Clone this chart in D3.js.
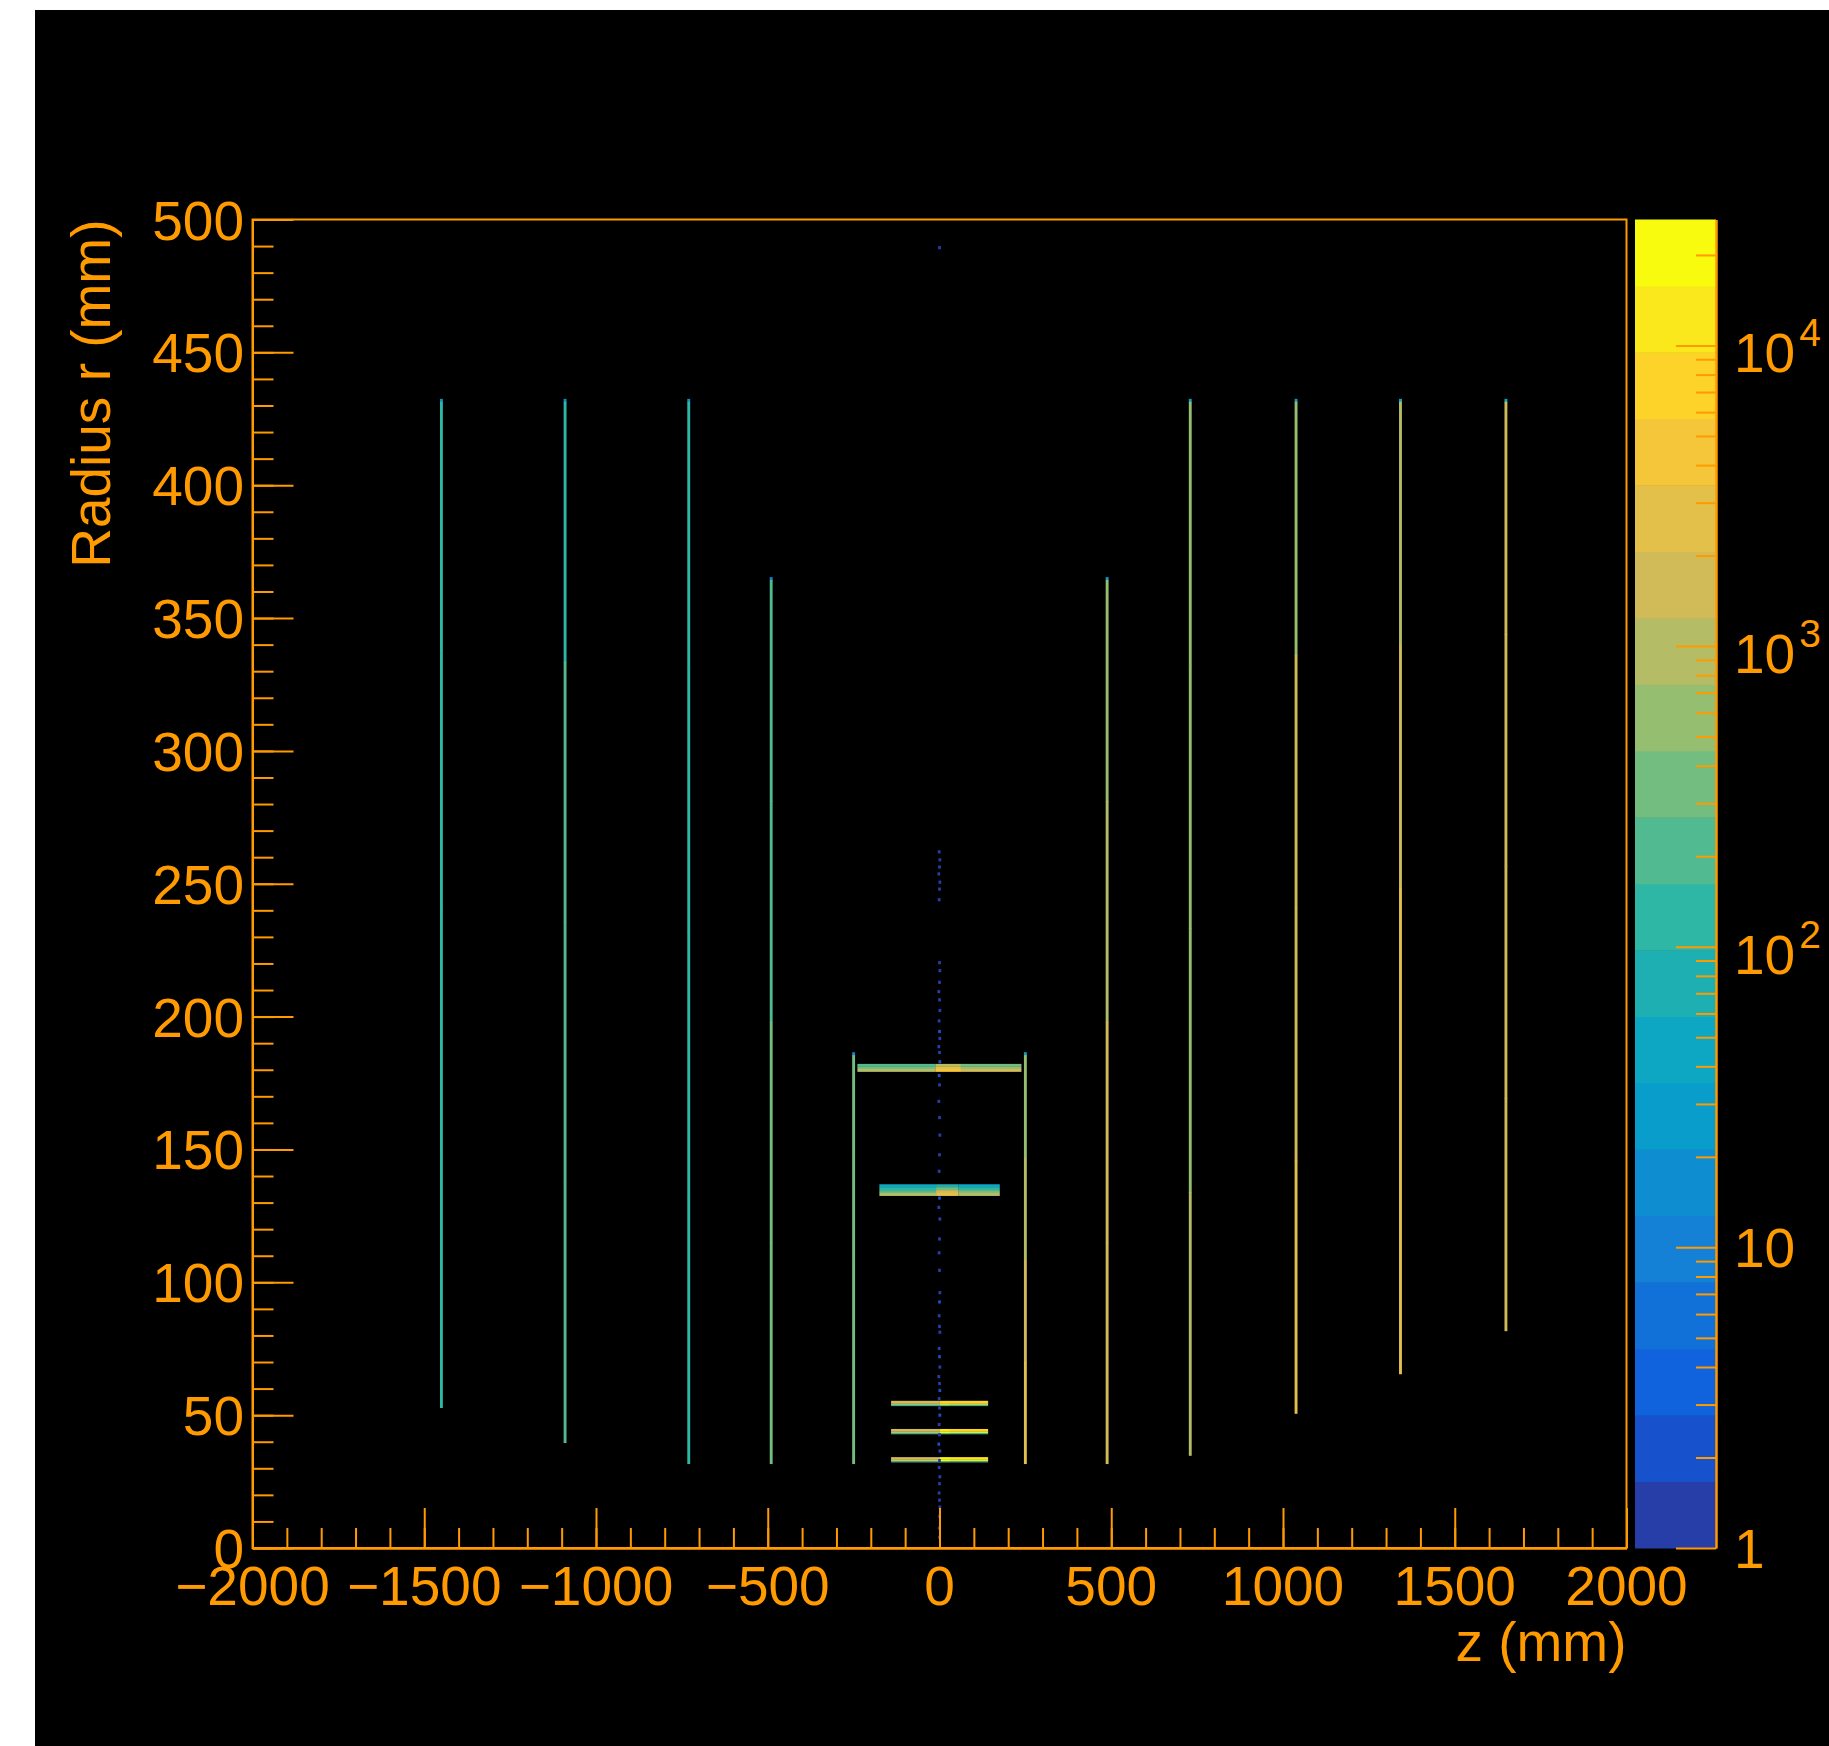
<!DOCTYPE html>
<html>
<head>
<meta charset="utf-8">
<script src="https://cdn.jsdelivr.net/npm/d3@7"></script>
<style>
  html, body { margin: 0; padding: 0; background: #ffffff; }
  svg { display: block; }
  text { font-family: "Liberation Sans", Arial, Helvetica, sans-serif; fill: #ff9a00; }
</style>
</head>
<body>
<svg id="chart" width="1829" height="1746"></svg>
<script>
// ---------------- data ----------------
const zTicks = [-2000, -1500, -1000, -500, 0, 500, 1000, 1500, 2000];
const rTicks = [0, 50, 100, 150, 200, 250, 300, 350, 400, 450, 500];
const zLabel = "z (mm)";
const rLabel = "Radius r (mm)";
const countMax = 26240;          // top of the colour scale
const nLevels = 20;              // colour contours

// endcap disks: z, radial extent, hit counts along the line (outer -> inner), count of outermost bin
const diskZ      = [-1450, -1090, -730, -490, -250, 250, 488, 730, 1038, 1342, 1649];
const diskRmin   = [52.7, 39.5, 31.6, 31.6, 31.6, 31.6, 31.6, 34.7, 50.5, 65.4, 81.6];
const diskRmax   = [432.5, 432.5, 432.5, 365.4, 186.6, 186.6, 365.4, 432.5, 432.5, 432.5, 432.5];
const diskCounts = [
  [120, 130, 130, 140],
  [150, 180, 220, 250],
  [120, 130, 140, 150],
  [200, 250, 280, 300],
  [300, 350, 400, 400],
  [700, 1200, 1800, 2200],
  [500, 900, 1300, 1600],
  [500, 600, 700, 800],
  [700, 1300, 1900, 2500],
  [1000, 1900, 2700, 3200],
  [1300, 1700, 1900, 1900]
];
const diskEdge   = [14, 14, 16, 10, 12, 25, 30, 35, 35, 40, 45];

// barrel layers: z segments, r rows (outer -> inner), counts[row][segment]
const layerZ = [
  [-239, -12, 62, 238],
  [-175, -10, 55, 175],
  [-141, 0, 30, 141],
  [-141, 0, 30, 141],
  [-141, 0, 30, 141]
];
const layerR = [
  [182.1, 181.1, 180.2, 179.2],
  [136.8, 135.7, 134.6, 133.6, 132.5],
  [55.3, 54.4, 53.8, 53.4],
  [44.7, 43.8, 43.2, 42.8],
  [34.1, 33.2, 32.6, 32.2]
];
const layerCounts = [
  [[200, 1200, 300], [300, 2500, 500], [900, 4000, 1500]],
  [[40, 60, 50], [100, 300, 120], [250, 1500, 300], [900, 3000, 1100]],
  [[1500, 9000, 6000], [1800, 14000, 9000], [120, 200, 150]],
  [[1500, 12000, 8000], [1800, 16000, 11000], [120, 200, 150]],
  [[1800, 18000, 12000], [2200, 22000, 15000], [120, 200, 150]]
];

// isolated hits near z = 0 : [z, r, count]
const beamHits = [
  [0, 489.4, 1], [-1, 262.0, 1], [1, 259.0, 1], [0, 256.3, 1], [-2, 253.7, 1], [1, 250.6, 1],
  [0, 248.0, 1], [-1, 244.0, 1], [0, 220.3, 1], [1, 217.3, 1], [0, 212.9, 1], [-2, 209.4, 1],
  [0, 206.3, 1], [1, 202.3, 1], [-1, 198.4, 1], [0, 194.4, 2], [1, 191.8, 1], [-2, 188.7, 1],
  [0, 186.5, 1], [1, 183.0, 2], [-1, 177.8, 2], [0, 174.3, 1], [-2, 168.1, 1], [0, 162.0, 1],
  [1, 155.4, 1], [0, 148.0, 1], [-1, 141.8, 1], [0, 131.7, 2], [-2, 128.2, 1], [1, 123.8, 1],
  [0, 116.3, 1], [-1, 111.1, 1], [0, 104.5, 1], [1, 96.1, 1], [0, 92.6, 2], [-1, 87.4, 1],
  [0, 83.4, 1], [1, 81.2, 1], [-1, 75.1, 1], [0, 72.0, 2], [1, 68.1, 1], [-2, 64.5, 1],
  [0, 61.9, 1], [1, 59.3, 2], [-1, 56.2, 1], [0, 52.7, 1], [1, 50.0, 2], [-1, 46.5, 1],
  [0, 42.6, 1], [-2, 39.1, 2], [1, 36.5, 1], [0, 32.9, 1], [-1, 30.3, 1], [1, 26.8, 1],
  [0, 24.2, 1], [-1, 20.7, 1], [0, 18.0, 1], [1, 15.4, 1], [0, 11.9, 1], [-1, 7.5, 1], [0, 4.0, 1]
];

// kBird palette stops
const birdStops = [0.0, 0.125, 0.25, 0.375, 0.5, 0.625, 0.75, 0.875, 1.0];
const birdR = [0.2082, 0.0592, 0.0780, 0.0232, 0.1802, 0.5301, 0.8186, 0.9956, 0.9764];
const birdG = [0.1664, 0.3599, 0.5041, 0.6419, 0.7178, 0.7492, 0.7328, 0.7862, 0.9832];
const birdB = [0.5293, 0.8684, 0.8385, 0.7914, 0.6425, 0.4662, 0.3499, 0.1968, 0.0539];

// ---------------- layout ----------------
const orange = "#ff9a00";
const frame = { left: 252.5, right: 1626.5, top: 219.5, bottom: 1548 };
const bar = { left: 1635, right: 1716 };
const fontSize = 55;

const svg = d3.select("#chart");

svg.append("rect")
  .attr("x", 35).attr("y", 10)
  .attr("width", 1829 - 35).attr("height", 1746 - 10)
  .attr("fill", "#000");

let x = d3.scaleLinear().domain([-2000, 2000]).range([frame.left, frame.right]);
let y = d3.scaleLinear().domain([0, 500]).range([frame.bottom, frame.top]);
let cScale = d3.scaleLog().domain([1, countMax]).range([frame.bottom, frame.top]);

// palette and contour colours
let palette = d3.scaleLinear()
  .domain(birdStops)
  .range(birdStops.map((s, i) => d3.rgb(birdR[i] * 255, birdG[i] * 255, birdB[i] * 255)))
  .interpolate(d3.interpolateRgb);
let logMax = Math.log10(countMax);
function levelOf(v) {
  let k = Math.floor(Math.log10(Math.max(v, 1)) / logMax * nLevels);
  return Math.max(0, Math.min(nLevels - 1, k));
}
function levelColor(k) {
  let idx = Math.floor((k + 0.99) * 255 / nLevels);
  return palette(idx / 254);
}
function countColor(v) { return levelColor(levelOf(v)); }

// clip for the data
svg.append("clipPath").attr("id", "plotClip")
  .append("rect")
  .attr("x", frame.left).attr("y", frame.top)
  .attr("width", frame.right - frame.left).attr("height", frame.bottom - frame.top);

let plot = svg.append("g").attr("clip-path", "url(#plotClip)");

// build histogram cells
let cells = [];
const diskHalfWidth = 4.2;   // mm
diskZ.forEach((z, i) => {
  let n = diskCounts[i].length;
  let edge = 1.3;
  let r0 = diskRmax[i] - edge;
  let step = (r0 - diskRmin[i]) / n;
  cells.push({ z0: z - diskHalfWidth, z1: z + diskHalfWidth, r0: r0, r1: diskRmax[i], v: diskEdge[i] });
  diskCounts[i].forEach((v, j) => {
    cells.push({ z0: z - diskHalfWidth, z1: z + diskHalfWidth, r0: r0 - (j + 1) * step, r1: r0 - j * step + 0.2, v: v });
  });
});
layerZ.forEach((zs, i) => {
  let rs = layerR[i];
  layerCounts[i].forEach((row, j) => {
    row.forEach((v, k) => {
      cells.push({ z0: zs[k], z1: zs[k + 1] + 0.5, r0: rs[j + 1], r1: rs[j] + 0.1, v: v });
    });
  });
});
beamHits.forEach(d => {
  cells.push({ z0: d[0] - 4, z1: d[0] + 4, r0: d[1] - 0.6, r1: d[1] + 0.6, v: d[2] });
});

plot.selectAll("rect.cell")
  .data(cells)
  .enter()
  .append("rect")
  .attr("class", "cell")
  .attr("x", d => x(d.z0))
  .attr("y", d => y(d.r1))
  .attr("width", d => x(d.z1) - x(d.z0))
  .attr("height", d => y(d.r0) - y(d.r1))
  .attr("fill", d => countColor(d.v));

// frame
svg.append("rect")
  .attr("x", frame.left).attr("y", frame.top)
  .attr("width", frame.right - frame.left).attr("height", frame.bottom - frame.top)
  .attr("fill", "none").attr("stroke", orange).attr("stroke-width", 2);

// x axis ticks (pointing up into the frame)
let xMinor = d3.range(-2000, 2001, 100);
let xAxisMinor = d3.axisTop(x).tickValues(xMinor).tickSize(20).tickSizeOuter(0).tickFormat("");
let xAxisMajor = d3.axisTop(x).tickValues(zTicks).tickSize(40).tickSizeOuter(0).tickFormat("");
svg.append("g").attr("transform", `translate(0,${frame.bottom})`).call(xAxisMinor);
svg.append("g").attr("transform", `translate(0,${frame.bottom})`).call(xAxisMajor);

// y axis ticks (pointing right into the frame)
let rMinor = d3.range(0, 501, 10);
let yAxisMinor = d3.axisRight(y).tickValues(rMinor).tickSize(21).tickSizeOuter(0).tickFormat("");
let yAxisMajor = d3.axisRight(y).tickValues(rTicks).tickSize(41).tickSizeOuter(0).tickFormat("");
svg.append("g").attr("transform", `translate(${frame.left},0)`).call(yAxisMinor);
svg.append("g").attr("transform", `translate(${frame.left},0)`).call(yAxisMajor);

svg.selectAll(".domain, .tick line")
  .attr("stroke", orange).attr("stroke-width", 2);

// tick labels
svg.append("g").selectAll("text")
  .data(zTicks)
  .enter()
  .append("text")
  .attr("x", d => x(d))
  .attr("y", 1605)
  .attr("text-anchor", "middle")
  .style("font-size", fontSize + "px")
  .text(d => d < 0 ? "\u2212" + Math.abs(d) : d);

svg.append("g").selectAll("text")
  .data(rTicks)
  .enter()
  .append("text")
  .attr("x", 244)
  .attr("y", d => y(d) + 20)
  .attr("text-anchor", "end")
  .style("font-size", fontSize + "px")
  .text(d => d);

// axis titles
svg.append("text")
  .attr("x", frame.right)
  .attr("y", 1661)
  .attr("text-anchor", "end")
  .style("font-size", fontSize + "px")
  .text(zLabel);

svg.append("text")
  .attr("transform", `translate(110,${frame.top}) rotate(-90)`)
  .attr("text-anchor", "end")
  .style("font-size", fontSize + "px")
  .text(rLabel);

// colour bar
let levelEdges = d3.range(nLevels + 1).map(k => Math.pow(10, logMax * k / nLevels));
svg.append("g").selectAll("rect")
  .data(d3.range(nLevels))
  .enter()
  .append("rect")
  .attr("x", bar.left)
  .attr("width", bar.right - bar.left)
  .attr("y", k => cScale(levelEdges[k + 1]))
  .attr("height", k => cScale(levelEdges[k]) - cScale(levelEdges[k + 1]) + 0.5)
  .attr("fill", k => levelColor(k));

let cMajor = [1, 10, 100, 1000, 10000];
let cMinor = [];
cMajor.forEach(p => {
  for (let m = 2; m <= 9; m++) if (p * m <= countMax) cMinor.push(p * m);
});
let cAxisMinor = d3.axisLeft(cScale).tickValues(cMinor).tickSize(20).tickSizeOuter(0).tickFormat("");
let cAxisMajor = d3.axisLeft(cScale).tickValues(cMajor).tickSize(40).tickSizeOuter(0).tickFormat("");
let cg1 = svg.append("g").attr("transform", `translate(${bar.right},0)`).call(cAxisMinor);
let cg2 = svg.append("g").attr("transform", `translate(${bar.right},0)`).call(cAxisMajor);
[cg1, cg2].forEach(g => g.selectAll(".domain, .tick line").attr("stroke", orange).attr("stroke-width", 2));

let cLabels = svg.append("g").selectAll("text")
  .data(cMajor)
  .enter()
  .append("text")
  .attr("x", 1734)
  .attr("y", d => cScale(d) + (d >= 100 ? 27 : 20))
  .style("font-size", fontSize + "px");
cLabels.append("tspan").text(d => d >= 100 ? "10" : d);
cLabels.filter(d => d >= 100)
  .append("tspan")
  .attr("dx", 4)
  .attr("dy", -26)
  .style("font-size", "39px")
  .text(d => Math.round(Math.log10(d)));
</script>
</body>
</html>
